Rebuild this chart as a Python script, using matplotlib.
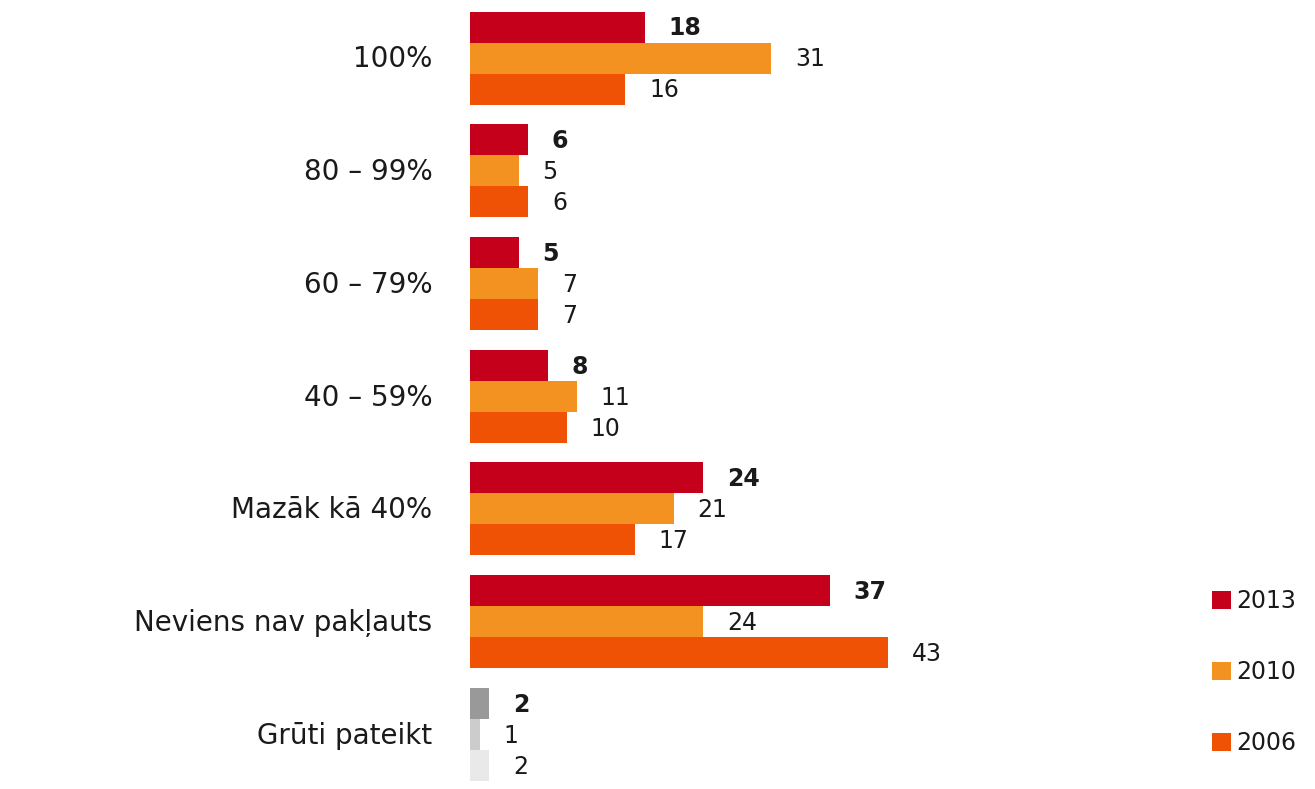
import matplotlib
matplotlib.use("Agg")
import matplotlib.pyplot as plt
from matplotlib.patches import Patch
import numpy as np

# -- data
categories = ["100%", "80 – 99%", "60 – 79%", "40 – 59%",
              "Mazāk kā 40%", "Neviens nav pakļauts", "Grūti pateikt"]
years = ["2013", "2010", "2006"]
v2013 = [18, 6, 5, 8, 24, 37, 2]
v2010 = [31, 5, 7, 11, 21, 24, 1]
v2006 = [16, 6, 7, 10, 17, 43, 2]

colors = ["#c4001a", "#f39220", "#ef5205"]
grays = ["#999999", "#cccccc", "#e9e9e9"]   # last category drawn in grey

series = [v2013, v2010, v2006]

fig = plt.figure(figsize=(13.15, 7.89), dpi=100)
ax = fig.add_axes([470 / 1315, 0, 690 / 1315, 1])

y = np.arange(len(categories))
h = 0.275
txt = "#1a1a1a"

for i, vals in enumerate(series):
    cols = [colors[i]] * (len(categories) - 1) + [grays[i]]
    pos = y + (i - 1) * h + 0.015
    bars = ax.barh(pos, vals, height=h, color=cols, edgecolor="none")
    for b, v in zip(bars, vals):
        ax.annotate(str(v), (b.get_width(), b.get_y() + b.get_height() / 2),
                    xytext=(17, -1), textcoords="offset points",
                    ha="left", va="center", fontsize=17, color=txt,
                    fontweight="bold" if i == 0 else "normal")

ax.set_xlim(0, 71)
ax.set_ylim(len(categories) - 0.5, -0.5)
ax.set_yticks(y)
ax.set_yticklabels(categories, fontsize=20, color=txt)
ax.tick_params(axis="y", length=0, pad=27)
ax.set_xticks([])
for s in ax.spines.values():
    s.set_visible(False)

# -- legend on the right
handles = [Patch(facecolor=c, edgecolor="none", label=yr) for c, yr in zip(colors, years)]
fig.legend(handles=handles, loc="upper left", bbox_to_anchor=(1200 / 1315, 1 - 577 / 789),
           frameon=False, fontsize=17, labelspacing=2.0, handlelength=0.8,
           handleheight=0.8, handletextpad=0.25, borderpad=0, labelcolor=txt)

fig.savefig("out.png", dpi=100)
